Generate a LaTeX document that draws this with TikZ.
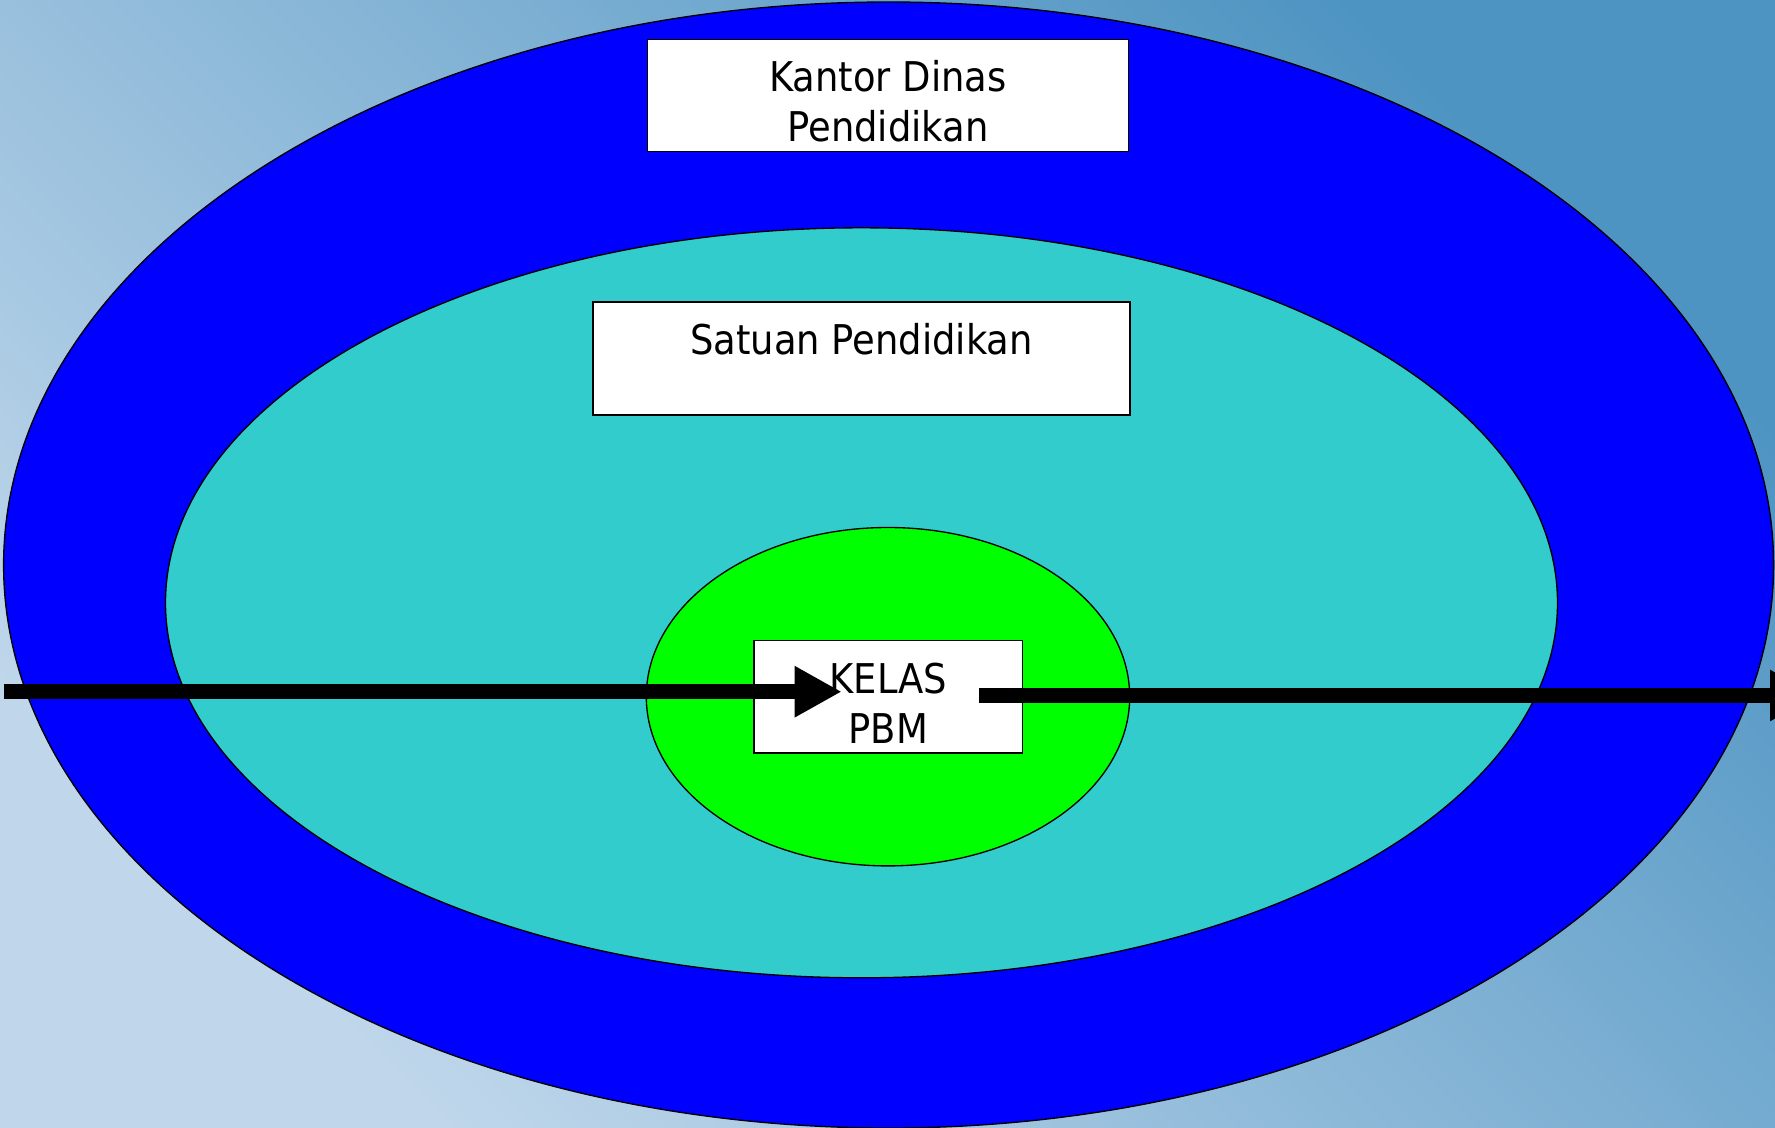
\documentclass[tikz,border=0pt]{standalone}
\usepackage{fontspec}
\setmainfont{DejaVu Sans}[FakeStretch=0.9]
\usetikzlibrary{arrows.meta}

\definecolor{ringblue}{RGB}{0,0,255}
\definecolor{ringteal}{RGB}{51,204,204}
\definecolor{ringgreen}{RGB}{0,255,0}
\definecolor{bglight}{RGB}{192,215,235}
\definecolor{bgdark}{RGB}{78,148,194}

\newcommand{\toppad}{\rule{0pt}{32pt}}

\tikzset{every picture/.style={line width=0.75pt}}
\tikzset{
  ring/.style={draw=black, line width=1pt},
  labelbox/.style={draw=black, fill=white, line width=1pt, align=center, inner sep=0pt,
    font=\fontsize{30.75}{37.5}\selectfont},
  flow/.style={line width=11.25pt, -{Triangle[length=35.25pt, width=36pt]}}
}

\begin{document}
\begin{tikzpicture}[x=0.75pt,y=0.75pt,yscale=-1,xscale=1]
\useasboundingbox (0,0) rectangle (1775,1128);

%Background
\shade[top color=bgdark, bottom color=bglight, shading angle=-45] (0,0) rectangle (1775,1128);

%Shape: Ellipse [outer]
\draw[ring, fill=ringblue] (888.6,565) ellipse (885 and 563);
%Shape: Ellipse [middle]
\draw[ring, fill=ringteal] (861.5,602.8) ellipse (696 and 375);
%Shape: Ellipse [inner]
\draw[ring, fill=ringgreen] (888,696.7) ellipse (241.7 and 169.2);

% Text Node
\node[labelbox, minimum width=360.8pt, minimum height=84pt] (kantor) at (888,95.7) {\toppad Kantor Dinas\\Pendidikan};
% Text Node
\node[labelbox, minimum width=402.8pt, minimum height=84.75pt] (satuan) at (861.5,358.5) {\toppad Satuan Pendidikan\\\mbox{}};
% Text Node
\node[labelbox, minimum width=201.5pt, minimum height=84.2pt] (kelas) at (888.4,696.9) {\toppad KELAS\\PBM};

%Straight Lines [in]
\coordinate (inStart) at (4,691.7);
\coordinate (inTip) at (841.7,691.7);
\draw[flow] (inStart) -- (inTip);
%Straight Lines [out]
\coordinate (outStart) at (979.3,695.5);
\coordinate (outTip) at (1817,695.5);
\draw[flow] (outStart) -- (outTip);

\end{tikzpicture}
\end{document}
